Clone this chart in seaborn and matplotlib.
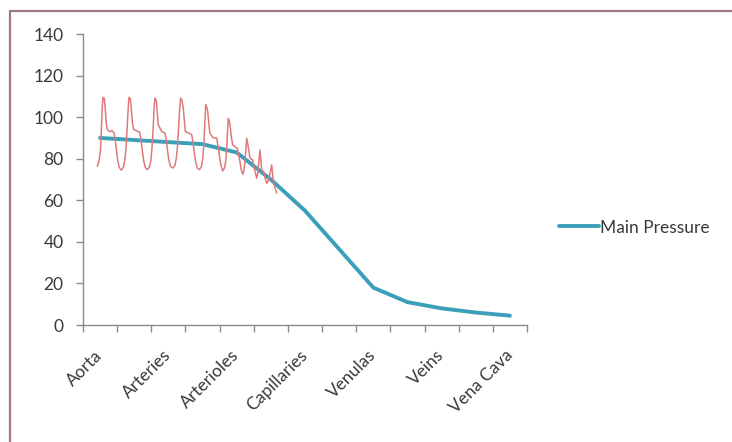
import matplotlib
matplotlib.use("Agg")
import matplotlib.pyplot as plt
from matplotlib.lines import Line2D
import numpy as np
import pandas as pd
import seaborn as sns

# Vessel stages along the circulation (one category each)
stage_index = list(range(13))
main_pressure = [90, 89, 88, 87, 83, 70, 55, 36.5, 18, 11, 8, 6, 4.5]

# Axis labels shown on every second category
label_positions = [0, 2, 4, 6, 8, 10, 12]
label_names = ["Aorta", "Arteries", "Arterioles", "Capillaries",
               "Venulas", "Veins", "Vena Cava"]

# Pulsatile pressure trace in the arterial section (x in category units)
pulse_x = [-0.082, -0.032, 0.012, 0.041, 0.064, 0.085, 0.123, 0.152, 0.182,
           0.211, 0.281, 0.348, 0.407, 0.445, 0.480, 0.518, 0.562, 0.621,
           0.679, 0.723, 0.758, 0.794, 0.826, 0.846,
           0.884, 0.914, 0.949, 0.984, 1.060, 1.160, 1.198, 1.236, 1.277,
           1.324, 1.382, 1.441, 1.485, 1.520, 1.555, 1.584, 1.608,
           1.646, 1.675, 1.704, 1.804, 1.900, 1.939, 1.974, 2.012, 2.062,
           2.126, 2.184, 2.231, 2.267, 2.302, 2.334, 2.360,
           2.398, 2.436, 2.495, 2.583, 2.682, 2.720, 2.758, 2.799, 2.846,
           2.905, 2.963, 3.007, 3.043, 3.072, 3.092,
           3.122, 3.151, 3.189, 3.218, 3.315, 3.414, 3.452, 3.491, 3.534,
           3.590, 3.643, 3.681, 3.710, 3.734, 3.754,
           3.780, 3.804, 3.848, 3.883, 3.950, 4.018, 4.059, 4.097, 4.135,
           4.176, 4.214, 4.243, 4.272, 4.293,
           4.331, 4.390, 4.469, 4.507, 4.536, 4.586, 4.615, 4.644, 4.682,
           4.732, 4.799, 4.837, 4.879, 4.917, 4.955, 4.990, 5.025,
           5.072, 5.171]
pulse_y = [76.3, 79.0, 84.0, 95.0, 105.0, 109.5, 109.0, 104.0, 97.0,
           94.0, 93.0, 93.5, 92.4, 89.0, 84.0, 79.0, 75.8, 74.5,
           75.8, 79.0, 85.0, 95.0, 105.0, 109.5,
           109.0, 104.0, 97.0, 94.0, 93.5, 92.7, 89.0, 84.0, 79.0,
           75.8, 74.7, 75.8, 79.0, 85.0, 95.0, 105.0, 109.2,
           108.0, 102.0, 96.4, 93.0, 92.4, 89.0, 84.0, 79.5, 76.3,
           75.5, 76.5, 80.0, 86.0, 96.0, 105.0, 109.2,
           108.0, 104.4, 93.2, 92.4, 91.6, 88.0, 83.0, 78.5, 75.5,
           74.7, 76.0, 80.0, 88.0, 99.0, 106.0,
           105.0, 102.8, 96.0, 92.2, 90.0, 90.0, 86.0, 81.8, 77.0,
           74.1, 75.5, 79.0, 86.0, 94.0, 99.4,
           98.5, 96.2, 90.0, 86.6, 85.8, 85.0, 81.5, 78.6, 74.5,
           72.5, 74.5, 78.6, 85.0, 89.8,
           86.6, 80.2, 79.4, 76.0, 73.8, 70.6, 73.0, 78.0, 84.2,
           74.6, 73.5, 70.5, 68.2, 69.0, 71.3, 74.0, 77.0,
           69.0, 63.4]

sns.set_theme(style="white")
plt.rcParams["font.family"] = ["Lato", "DejaVu Sans"]

text_color = "#3a3a3a"
axis_color = "#8a8a8a"
font_size = 12.5

fig = plt.figure(figsize=(7.32, 4.42), dpi=100)
fig.patch.set_facecolor("white")
ax = fig.add_axes([83 / 732, 117 / 442, 444 / 732, 291 / 442])

main_df = pd.DataFrame({"stage": stage_index, "pressure": main_pressure})
pulse_df = pd.DataFrame({"x": pulse_x, "pressure": pulse_y})

sns.lineplot(data=main_df, x="stage", y="pressure", ax=ax, color="#3c9fb9",
             linewidth=2.8, label="Main Pressure", sort=False, zorder=2)
sns.lineplot(data=pulse_df, x="x", y="pressure", ax=ax, color="#e07a7a",
             linewidth=1.1, sort=False, zorder=3, legend=False)

ax.set_xlim(-0.5, 12.5)
ax.set_ylim(0, 140)
ax.set_xlabel("")
ax.set_ylabel("")

# Tick marks sit between categories; labels at category centres
ax.set_xticks(np.arange(-0.5, 13, 1.0))
ax.set_xticklabels([])
ax.tick_params(axis="x", which="major", direction="out", length=5,
               color=axis_color, width=1, bottom=True)
ax.set_xticks(label_positions, minor=True)
ax.set_xticklabels(label_names, minor=True, rotation=45, ha="right",
                   va="center", rotation_mode="anchor", fontsize=font_size,
                   color=text_color)
ax.tick_params(axis="x", which="minor", length=0, pad=20)

ax.set_yticks(np.arange(0, 141, 20))
ax.tick_params(axis="y", direction="out", length=5, color=axis_color,
               width=1, left=True, labelsize=font_size, labelcolor=text_color,
               pad=9)

for side in ["top", "right"]:
    ax.spines[side].set_visible(False)
for side in ["left", "bottom"]:
    ax.spines[side].set_color(axis_color)
    ax.spines[side].set_linewidth(1)

leg = ax.legend(loc="center left", bbox_to_anchor=(1.057, 0.335),
                frameon=False, fontsize=font_size, handlelength=2.3,
                handletextpad=0.05, borderaxespad=0)
for t in leg.get_texts():
    t.set_color(text_color)

# Chart frame (top and left edges)
frame_color = "#a07880"
fig.add_artist(Line2D([10 / 732, 1.0], [1 - 11 / 442, 1 - 11 / 442],
                      transform=fig.transFigure, color=frame_color,
                      linewidth=1.6))
fig.add_artist(Line2D([10 / 732, 10 / 732], [0.0, 1 - 11 / 442],
                      transform=fig.transFigure, color=frame_color,
                      linewidth=1.6))

fig.savefig("out.png", dpi=100)
